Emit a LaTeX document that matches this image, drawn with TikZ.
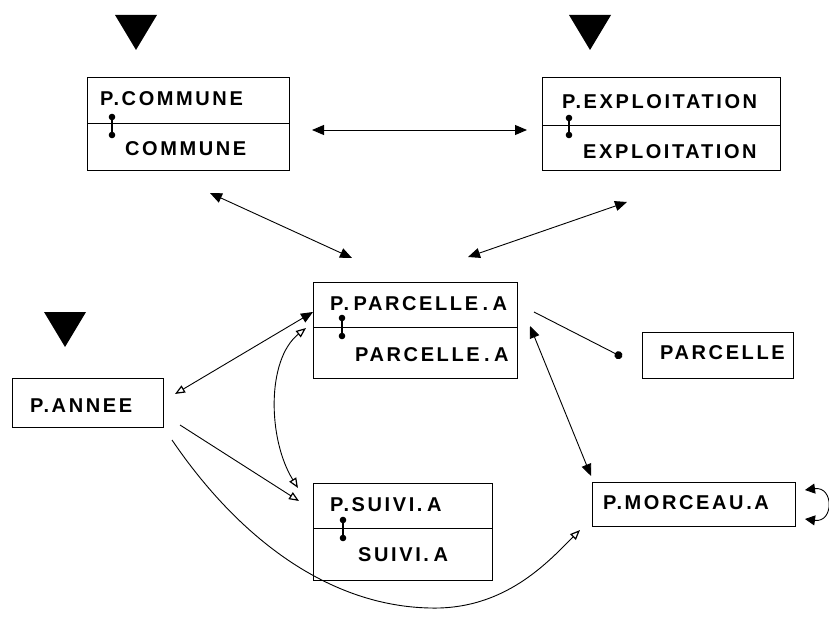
\documentclass[tikz,border=0pt]{standalone}
\usepackage{fontspec}
\setmainfont{Liberation Sans}[LetterSpace=13]
\usetikzlibrary{arrows.meta}
\begin{document}
\begin{tikzpicture}[x=1pt,y=-1pt,
  box/.style={draw,line width=1.3pt,inner sep=0pt,anchor=north west},
  lbl/.style={anchor=base west,inner sep=0pt,font=\fontsize{20}{24}\selectfont\bfseries,execute at begin node={\spaceskip=4.5pt\relax}},
  divider/.style={line width=1pt},
  conn/.style={line width=1.2pt},
  link/.style={line width=0.9pt},
  ff/.style={link,{Triangle[length=12pt,width=10pt]}-{Triangle[length=12pt,width=10pt]}},
  oo/.style={link,{Triangle[open,length=10pt,width=8pt,line width=1.2pt]}-{Triangle[open,length=10pt,width=8pt,line width=1.2pt]}},
  of/.style={link,{Triangle[open,length=10pt,width=8pt,line width=1.2pt]}-{Triangle[length=12pt,width=10pt]}},
  to/.style={link,-{Triangle[open,length=10pt,width=8pt,line width=1.2pt]}},
  dotend/.style={link,-{Circle[length=8pt]}},
  marker/.style={fill=black}]
\useasboundingbox (0,0) rectangle (829,617);

% markers
\fill[marker] (115,15) -- (157,15) -- (136,50) -- cycle;
\fill[marker] (569,15) -- (611,15) -- (590,50) -- cycle;
\fill[marker] (44,312) -- (86,312) -- (65,347) -- cycle;

% P.COMMUNE
\node[box,minimum width=202pt,minimum height=93pt] (com) at (87,77) {};
\draw[divider] (87,124) -- (289,124);
\node[lbl] (comA) at (100,106) {P.COMMUNE};
\node[lbl] (comB) at (125,156) {COMMUNE};
\draw[conn] (112,117) -- (112,135);
\fill (112,117) circle (3.3pt); \fill (112,135) circle (3.3pt);

% P.EXPLOITATION
\node[box,minimum width=238pt,minimum height=93pt] (exp) at (542,77) {};
\draw[divider] (542,126) -- (780,126);
\node[lbl] (expA) at (562,109) {P.EXPLOITATION};
\node[lbl] (expB) at (583,159) {EXPLOITATION};
\draw[conn] (569,118) -- (569,135);
\fill (569,118) circle (3.3pt); \fill (569,135) circle (3.3pt);

% P.PARCELLE.A
\node[box,minimum width=204pt,minimum height=96pt] (ppa) at (313,282) {};
\draw[divider] (313,327) -- (517,327);
\node[lbl] (ppaA) at (330,311) {P. PARCELLE . A};
\node[lbl] (ppaB) at (355,361) {PARCELLE . A};
\draw[conn] (342,318) -- (342,336);
\fill (342,318) circle (3.3pt); \fill (342,336) circle (3.3pt);

% P.ANNEE
\node[box,minimum width=151pt,minimum height=49pt] (ann) at (12,378) {};
\node[lbl] (annT) at (30,412) {P.ANNEE};

% P.SUIVI.A
\node[box,minimum width=179pt,minimum height=97pt] (sui) at (313,483) {};
\draw[divider] (313,528) -- (492,528);
\node[lbl] (suiA) at (330,511) {P.SUIVI. A};
\node[lbl] (suiB) at (358,561) {SUIVI. A};
\draw[conn] (343,520) -- (343,538);
\fill (343,520) circle (3.3pt); \fill (343,538) circle (3.3pt);

% PARCELLE
\node[box,minimum width=151pt,minimum height=46pt] (par) at (642,332) {};
\node[lbl] (parT) at (660,359) {PARCELLE};

% P.MORCEAU.A
\node[box,minimum width=203pt,minimum height=44pt] (mor) at (592,482) {};
\node[lbl] (morT) at (603,509) {P.MORCEAU.A};

% connector end points
\coordinate (c1a) at (312,130); \coordinate (c1b) at (527,130);
\coordinate (c2a) at (210,193); \coordinate (c2b) at (352,258);
\coordinate (c3a) at (627,202); \coordinate (c3b) at (468,257);
\coordinate (c4a) at (175,394); \coordinate (c4b) at (313,312);
\coordinate (c5a) at (298,488); \coordinate (c5b) at (306,328);
\coordinate (c6a) at (180,425); \coordinate (c6b) at (299,501);
\coordinate (c7a) at (172,440); \coordinate (c7m) at (430,608); \coordinate (c7b) at (580,530);
\coordinate (c8a) at (534,312); \coordinate (c8b) at (622,357);
\coordinate (c9a) at (530,326); \coordinate (c9b) at (591,476);
\coordinate (c10a) at (805,490); \coordinate (c10b) at (805,519);

\draw[ff] (c1a) -- (c1b);
\draw[ff] (c2a) -- (c2b);
\draw[ff] (c3a) -- (c3b);
\draw[of] (c4a) -- (c4b);
\draw[oo] (c5a) .. controls (268,440) and (266,360) .. (c5b);
\draw[to] (c6a) -- (c6b);
\draw[link] (c7a) .. controls (240,540) and (330,606) .. (c7m);
\draw[to] (c7m) .. controls (505,610) and (548,562) .. (c7b);
\draw[dotend] (c8a) -- (c8b);
\draw[ff] (c9a) -- (c9b);
\draw[link,{Triangle[length=10pt,width=10pt]}-{Triangle[length=10pt,width=10pt]}] (c10a) .. controls (834,486) and (834,523) .. (c10b);
\end{tikzpicture}
\end{document}
